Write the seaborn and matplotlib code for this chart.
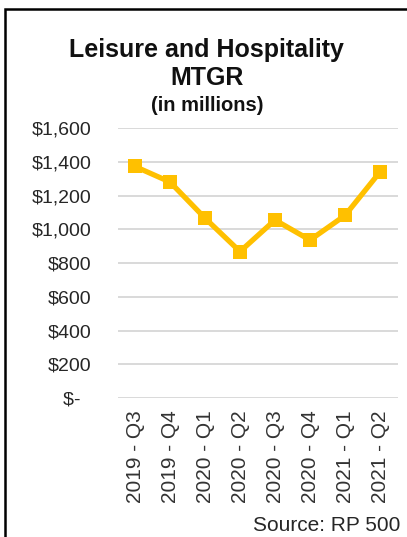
import pandas as pd
import seaborn as sns
import matplotlib.pyplot as plt
from matplotlib.patches import Rectangle

# Quarterly MTGR values (millions)
quarters = ['2019 - Q3', '2019 - Q4', '2020 - Q1', '2020 - Q2',
            '2020 - Q3', '2020 - Q4', '2021 - Q1', '2021 - Q2']
mtgr = [1372, 1280, 1066, 868, 1055, 936, 1082, 1340]
y_ticks = [0, 200, 400, 600, 800, 1000, 1200, 1400, 1600]
y_labels = ['$-  ', '$200', '$400', '$600', '$800', '$1,000', '$1,200', '$1,400', '$1,600']

df = pd.DataFrame({'Quarter': quarters, 'MTGR': mtgr})

sns.set_style('white')
plt.rcParams['font.family'] = ['Liberation Sans', 'DejaVu Sans']

fig = plt.figure(figsize=(4.07, 5.37), dpi=100)
ax = fig.add_axes([0.2887, 0.2588, 0.688, 0.5028])

sns.lineplot(data=df, x='Quarter', y='MTGR', ax=ax, sort=False,
             color='#FFC000', linewidth=3.8, marker='s', markersize=10,
             markeredgewidth=0)

ax.set_xlim(-0.5, 7.5)
ax.set_ylim(0, 1600)
ax.set_yticks(y_ticks)
ax.set_yticklabels(y_labels)
ax.grid(axis='y', color='#D9D9D9', linewidth=1.4)
ax.set_axisbelow(True)
for s in ax.spines.values():
    s.set_visible(False)
ax.tick_params(axis='y', length=0, pad=19, labelsize=14, labelcolor='#262626')
ax.tick_params(axis='x', length=0, pad=9, labelsize=15, labelcolor='#333333',
               labelrotation=90)
ax.set_xlabel('')
ax.set_ylabel('')

# titles
fig.text(0.508, 0.906, 'Leisure and Hospitality', ha='center', va='center',
         fontsize=18, fontweight='bold', color='#111111')
fig.text(0.508, 0.855, 'MTGR', ha='center', va='center',
         fontsize=18, fontweight='bold', color='#111111')
fig.text(0.508, 0.803, '(in millions)', ha='center', va='center',
         fontsize=14.5, fontweight='bold', color='#111111')
fig.text(0.983, 0.022, 'Source: RP 500', ha='right', va='center',
         fontsize=15, color='#262626')

# outer frame, clipped at right and bottom
fig.patches.append(Rectangle((5 / 407, -0.1), 1.2, 1.1 - 9 / 537,
                             transform=fig.transFigure, fill=False,
                             edgecolor='black', linewidth=1.8))

plt.savefig('out.png', dpi=100)
